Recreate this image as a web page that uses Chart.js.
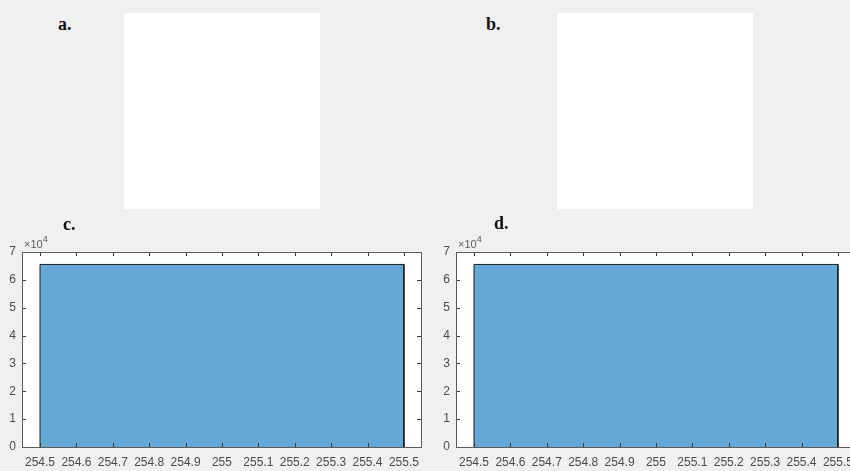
<!DOCTYPE html>
<html>
<head>
<meta charset="utf-8">
<script src="https://cdn.jsdelivr.net/npm/chart.js@4.4.1/dist/chart.umd.min.js"></script>
<style>
  html, body { margin: 0; padding: 0; }
  body { width: 850px; height: 471px; overflow: hidden; background: #f0f0f0; position: relative; }
  .img { position: absolute; background: #fff; width: 196px; height: 196px; top: 13px; }
  .lbl { position: absolute; font: bold 18px "Liberation Serif", "Times New Roman", serif; line-height: 18px; color: #111; z-index: 2; }
  canvas { position: absolute; }
</style>
</head>
<body>
<div class="img" style="left:124px"></div>
<div class="img" style="left:557px"></div>
<div class="lbl" style="left:58px; top:15px">a.</div>
<div class="lbl" style="left:486px; top:15px">b.</div>
<div class="lbl" style="left:63px; top:215px">c.</div>
<div class="lbl" style="left:494px; top:214px">d.</div>
<canvas id="histC" width="425" height="243" style="left:0; top:228px"></canvas>
<canvas id="histD" width="425" height="243" style="left:434px; top:228px"></canvas>
<script>
// histogram data (same image in both panels, all pixels = 255)
const binEdges = [254.5, 255.5];
const countsC = [65536];
const countsD = [65536];

const xTicks = [254.5, 254.6, 254.7, 254.8, 254.9, 255, 255.1, 255.2, 255.3, 255.4, 255.5];
const xTickLabels = ['254.5', '254.6', '254.7', '254.8', '254.9', '255', '255.1', '255.2', '255.3', '255.4', '255.5'];
const yTicks = [0, 1, 2, 3, 4, 5, 6, 7];
const yExponent = 4;
const xMin = 254.4505, xMax = 255.547;

Chart.defaults.font.family = 'Arial, "Liberation Sans", sans-serif';
Chart.defaults.font.size = 12;
Chart.defaults.color = '#4a4a4a';

// stepped outline of the bins, built from edges + counts
function histPoints(edges, counts) {
    let pts = [];
    counts.forEach((c, i) => {
        pts.push({ x: edges[i], y: 0 });
        pts.push({ x: edges[i], y: c });
        pts.push({ x: edges[i + 1], y: c });
        pts.push({ x: edges[i + 1], y: 0 });
    });
    return pts;
}

// matlab style axes: white background, box, inward ticks, x10^n marker
const matlabAxes = {
    id: 'matlabAxes',
    beforeDraw(chart) {
        let a = chart.chartArea, ctx = chart.ctx;
        ctx.save();
        ctx.fillStyle = '#ffffff';
        ctx.fillRect(a.left, a.top, a.right - a.left, a.bottom - a.top);
        ctx.restore();
    },
    afterDatasetsDraw(chart) {
        let a = chart.chartArea, ctx = chart.ctx;
        let xs = chart.scales.x, ys = chart.scales.y;
        let len = 4;
        ctx.save();
        ctx.strokeStyle = '#3a3a3a';
        ctx.lineWidth = 1;
        ctx.beginPath();
        xTicks.forEach(v => {
            let px = Math.round(xs.getPixelForValue(v)) + 0.5;
            ctx.moveTo(px, a.bottom); ctx.lineTo(px, a.bottom - len);
            ctx.moveTo(px, a.top); ctx.lineTo(px, a.top + len);
        });
        yTicks.forEach(v => {
            let py = Math.round(ys.getPixelForValue(v * Math.pow(10, yExponent))) + 0.5;
            ctx.moveTo(a.left, py); ctx.lineTo(a.left + len, py);
            ctx.moveTo(a.right, py); ctx.lineTo(a.right - len, py);
        });
        ctx.stroke();
        ctx.strokeStyle = '#5a5a5a';
        ctx.strokeRect(Math.round(a.left) + 0.5, Math.round(a.top) + 0.5,
            Math.round(a.right - a.left), Math.round(a.bottom - a.top));
        // exponent label
        ctx.fillStyle = '#5a5a5a';
        ctx.font = '11px Arial, "Liberation Sans", sans-serif';
        ctx.textBaseline = 'alphabetic';
        ctx.fillText('\u00d710', a.left + 2, a.top - 4);
        let w = ctx.measureText('\u00d710').width;
        ctx.font = '9px Arial, "Liberation Sans", sans-serif';
        ctx.fillText(String(yExponent), a.left + 2 + w, a.top - 10);
        ctx.restore();
    }
};

function makeHist(id, counts) {
    let ctx = document.getElementById(id);
    return new Chart(ctx, {
        type: 'scatter',
        data: {
            datasets: [{
                data: histPoints(binEdges, counts),
                showLine: true,
                fill: 'origin',
                backgroundColor: 'rgb(100,168,214)',
                borderColor: '#1c1c1c',
                borderWidth: 1,
                pointRadius: 0,
                tension: 0
            }]
        },
        options: {
            responsive: false,
            animation: false,
            events: [],
            layout: { padding: { top: 24, right: 4, left: 0, bottom: 0 } },
            plugins: { legend: { display: false }, tooltip: { enabled: false } },
            scales: {
                x: {
                    type: 'linear',
                    min: xMin,
                    max: xMax,
                    grid: { display: false, drawTicks: false },
                    border: { display: false },
                    afterBuildTicks: s => { s.ticks = xTicks.map(v => ({ value: v })); },
                    afterFit: s => { s.height = 24; s.paddingLeft = 0; s.paddingRight = 0; },
                    ticks: {
                        padding: 8,
                        maxRotation: 0,
                        autoSkip: false,
                        callback: (v) => xTickLabels[xTicks.indexOf(v)]
                    }
                },
                y: {
                    min: 0,
                    max: yTicks[yTicks.length - 1] * Math.pow(10, yExponent),
                    grid: { display: false, drawTicks: false },
                    border: { display: false },
                    afterBuildTicks: s => { s.ticks = yTicks.map(v => ({ value: v * Math.pow(10, yExponent) })); },
                    afterFit: s => { s.width = 22; s.paddingTop = 0; s.paddingBottom = 0; },
                    ticks: {
                        padding: 6,
                        callback: (v) => String(Math.round(v / Math.pow(10, yExponent)))
                    }
                }
            }
        },
        plugins: [matlabAxes]
    });
}

makeHist('histC', countsC);
makeHist('histD', countsD);
</script>
</body>
</html>
